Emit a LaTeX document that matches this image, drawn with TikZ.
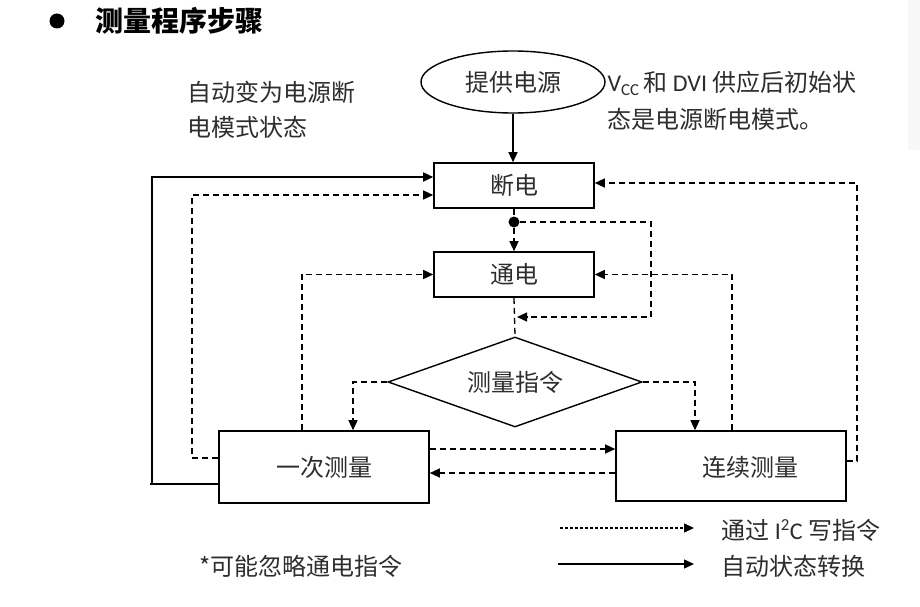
\documentclass[tikz,border=0pt]{standalone}
\usepackage{fontspec}
\setmainfont{Noto Sans CJK SC}
\newfontfamily\lat{Carlito}
\usetikzlibrary{arrows.meta,shapes.geometric}
\definecolor{txt}{RGB}{45,45,45}
\begin{document}
\begin{tikzpicture}[x=1pt,y=-1pt,
  every node/.style={font=\fontsize{24}{28}\selectfont, text=txt},
  box/.style={draw, line width=1.6pt, minimum width=160pt, minimum height=45pt, inner sep=0pt},
  conn/.style={line width=1.3pt},
  dsh/.style={conn, dash pattern=on 6pt off 4pt},
  tip/.style={-{Triangle[length=10pt,width=9pt]}},
]
\useasboundingbox (0,0) rectangle (920,607);
\fill[gray!6] (908,0) rectangle (920,150);
% title
\node[circle, fill=black, inner sep=0pt, minimum size=15pt] (bul) at (57,21) {};
\node[anchor=west, font=\fontsize{28}{32}\selectfont\bfseries, text=black] (title) at (92,21) {测量程序步骤};
% annotations
\node[anchor=west, align=left, font=\fontsize{24}{35}\selectfont] (note1) at (184,110) {自动变为电源断\\电模式状态};
\node[anchor=west, align=left, font=\fontsize{24}{37}\selectfont] (note2) at (604,101) {{\lat V\textsubscript{CC}}\,和 {\lat DVI} 供应后初始状\\态是电源断电模式。};
% nodes
\node[ellipse, draw, line width=1.4pt, minimum width=184pt, minimum height=62pt, inner sep=0pt] (ell) at (513,82) {提供电源};
\node[box] (off) at (514,185.5) {断电};
\node[circle, fill=black, inner sep=0pt, minimum size=11pt] (dot) at (514,222) {};
\node[box] (on) at (514,274.5) {通电};
\node[diamond, draw, line width=1.4pt, minimum width=254pt, minimum height=90pt, inner sep=0pt, aspect=2.8] (dia) at (515,382) {测量指令};
\node[box, minimum width=210pt, minimum height=72pt] (single) at (324,467) {一次测量};
\node[box, minimum width=230pt, minimum height=70pt] (cont) at (731,466) {};
\node (contlabel) at (750,467) {连续测量};
\coordinate (j) at (517,317);
% connectors
\draw[conn, tip] (ell.south) -- (ell.south |- off.north);
\draw[dsh] (off.south) -- (dot.north);
\draw[dsh, tip] (dot.south) -- (on.north);
\draw[dsh, tip] (dot.east) -- (651,222) |- (j);
\draw[dsh] (on.south) -- (dia.north);
\draw[dsh, tip] (dia.west) -| ([xshift=29pt]single.north);
\draw[dsh, tip] (dia.east) -| ([xshift=-36pt]cont.north);
\draw[dsh, tip] ([xshift=-22pt]single.north) |- (on.west);
\draw[dsh, tip] ([xshift=1pt]cont.north) |- (on.east);
\draw[conn, line width=1.5pt, tip] ([yshift=-17pt]single.west) -- (150,484) -- (152,484) |- ([yshift=8.5pt]off.west);
\draw[dsh, tip] ([yshift=9pt]single.west) -- (192,458) |- ([yshift=-9.5pt]off.west);
\draw[dsh, tip] ([yshift=5pt]cont.east) -- (857,461) |- ([yshift=2.5pt]off.east);
\draw[dsh, tip] ([yshift=18pt]single.east) -- ([yshift=17pt]cont.west);
\draw[dsh, tip] ([yshift=-7pt]cont.west) -- ([yshift=-6pt]single.east);
% legend
\coordinate (l1a) at (560,528);
\coordinate (l1b) at (694,528);
\coordinate (l2a) at (558,564);
\coordinate (l2b) at (694,564);
\draw[conn, dash pattern=on 3pt off 2pt, tip] (l1a) -- (l1b);
\draw[conn, tip] (l2a) -- (l2b);
\node[anchor=west] (leg1) at (718,530) {通过 {\lat I\textsuperscript{2}C} 写指令};
\node[anchor=west] (leg2) at (718,566) {自动状态转换};
\node[anchor=west] (foot) at (196,566) {*可能忽略通电指令};
\end{tikzpicture}
\end{document}
